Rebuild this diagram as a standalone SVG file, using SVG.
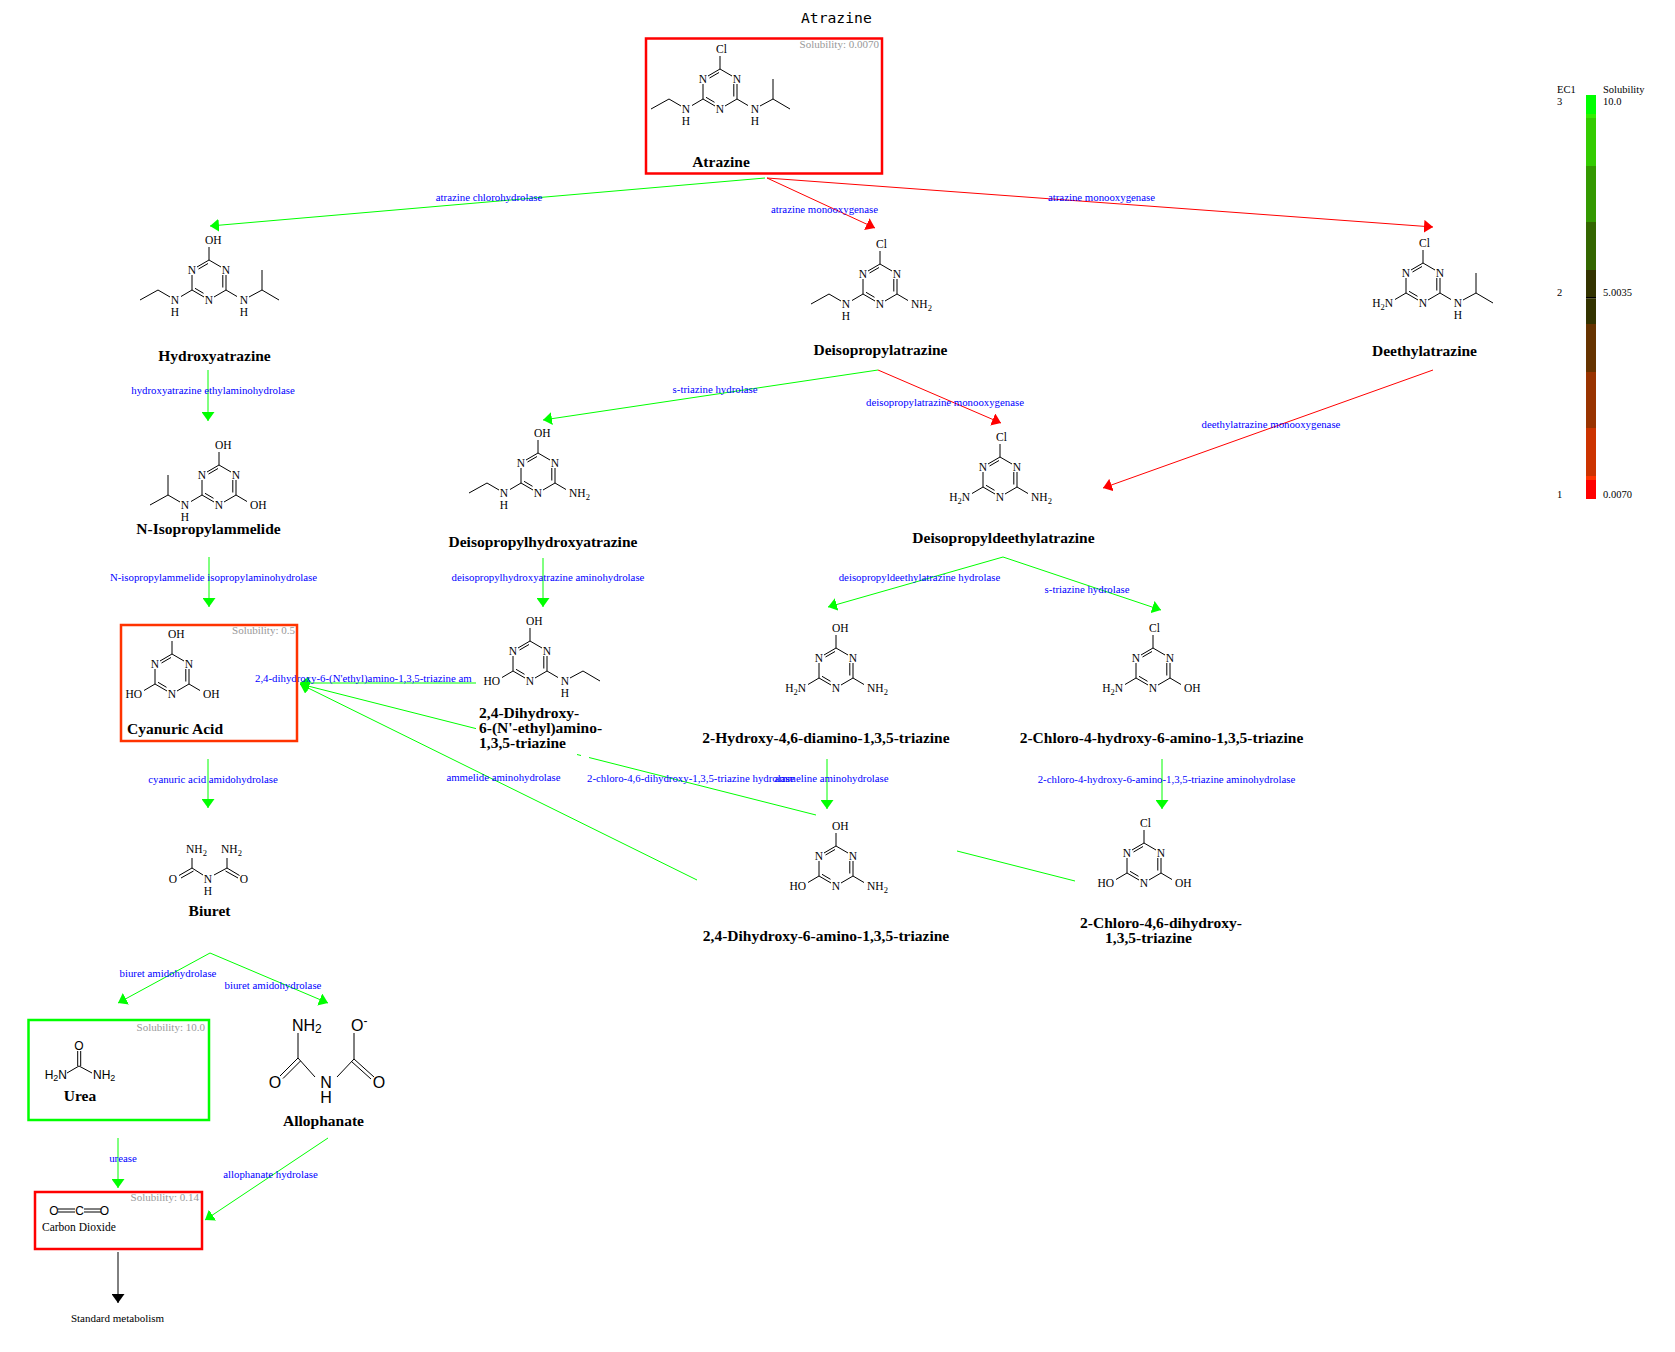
<svg xmlns="http://www.w3.org/2000/svg" xmlns:xlink="http://www.w3.org/1999/xlink" width="1675" height="1352" viewBox="0 0 1675 1352">
<defs>
<style>
.bd{fill:none;stroke:#000;stroke-width:1}
.at{font-family:"Liberation Serif",serif;font-size:11.5px;fill:#000}
.atm{font-family:"Liberation Serif",serif;font-size:11.5px;fill:#000;text-anchor:middle}
.sb{font-size:8.5px}
.sans{font-family:"Liberation Sans",Arial,sans-serif;fill:#000}
.nm{font-family:"Liberation Serif",serif;font-weight:bold;font-size:15.5px;fill:#000;text-anchor:middle}
.nml{font-family:"Liberation Serif",serif;font-weight:bold;font-size:15.5px;fill:#000}
.enz{font-family:"Liberation Serif",serif;font-size:10.8px;fill:#0000ff;text-anchor:middle}
.enzs{font-family:"Liberation Serif",serif;font-size:10.8px;fill:#0000ff}
.sol{font-family:"Liberation Serif",serif;font-size:11px;fill:#999999;text-anchor:end}
.leg{font-family:"Liberation Serif",serif;font-size:10.5px;fill:#000}
.cg{fill:none;stroke:#00ff00;stroke-width:1}
.cr{fill:none;stroke:#ff0000;stroke-width:1}
.ck{fill:none;stroke:#000;stroke-width:1}
.box{fill:none;stroke-width:2.5}
</style>
<marker id="ag" viewBox="0 0 9 13" refX="9" refY="6.5" markerWidth="9" markerHeight="13" markerUnits="userSpaceOnUse" orient="auto"><path d="M0,0 L9,6.5 L0,13 z" fill="#00ff00"/></marker>
<marker id="ar" viewBox="0 0 9 13" refX="9" refY="6.5" markerWidth="9" markerHeight="13" markerUnits="userSpaceOnUse" orient="auto"><path d="M0,0 L9,6.5 L0,13 z" fill="#ff0000"/></marker>
<marker id="ak" viewBox="0 0 9 13" refX="9" refY="6.5" markerWidth="9" markerHeight="13" markerUnits="userSpaceOnUse" orient="auto"><path d="M0,0 L9,6.5 L0,13 z" fill="#000000"/></marker>
<g id="tri">
<path class="bd" d="M0,-20 L-12,-13 M-1,-16.5 L-10.5,-11 M0,-20 L12,-13 M-17,-5 L-17,10 M17,-5 L17,10 M13.8,-5 L13.8,7.5 M-17,10 L-5,17 M-14,8.3 L-5.5,13.3 M17,10 L5,17 M0,-20 L0,-33 M-17,10 L-28,16.5 M17,10 L28,16.5"/>
<text class="atm" x="-17" y="-6.2">N</text>
<text class="atm" x="17" y="-6.2">N</text>
<text class="atm" x="0" y="23.8">N</text>
</g>
<g id="topCl"><text class="at" x="-4" y="-36.2">Cl</text></g>
<g id="topOH"><text class="at" x="-4" y="-36.2">OH</text></g>
<g id="llH2N"><text class="at" x="-30" y="23.8" text-anchor="end">H<tspan class="sb" dy="3">2</tspan><tspan dy="-3">N</tspan></text></g>
<g id="llHO"><text class="at" x="-30" y="23.8" text-anchor="end">HO</text></g>
<g id="lrNH2"><text class="at" x="31" y="23.8">NH<tspan class="sb" dy="3">2</tspan></text></g>
<g id="lrOH"><text class="at" x="31" y="23.8">OH</text></g>
<g id="nhL"><text class="atm" x="-34" y="23.8">N</text><text class="atm" x="-34" y="35.8">H</text></g>
<g id="nhR"><text class="atm" x="35" y="23.8">N</text><text class="atm" x="35" y="35.8">H</text></g>
<path id="ethL" class="bd" d="M-39,17 L-51,10 L-69,20"/>
<path id="isoL" class="bd" d="M-39,17 L-51,10 L-69,20 M-51,10 L-51,-10"/>
<path id="ethR" class="bd" d="M40,17 L53,10 L70,20"/>
<path id="isoR" class="bd" d="M40,17 L53,10 L70,20 M53,10 L53,-10"/>
</defs>
<rect x="0" y="0" width="1675" height="1352" fill="#ffffff"/>

<text x="801" y="23" font-family="'DejaVu Sans Mono',monospace" font-size="14.7px" fill="#000">Atrazine</text>

<g id="connectors">
<path class="cg" d="M765,178 L210,226" marker-end="url(#ag)"/>
<path class="cr" d="M767,178 L875,228" marker-end="url(#ar)"/>
<path class="cr" d="M767,178 L1433,227" marker-end="url(#ar)"/>
<path class="cg" d="M208,370 L208,421" marker-end="url(#ag)"/>
<path class="cg" d="M878,370 L543,420" marker-end="url(#ag)"/>
<path class="cr" d="M878,370 L1001,423" marker-end="url(#ar)"/>
<path class="cr" d="M1433,370 L1103,488" marker-end="url(#ar)"/>
<path class="cg" d="M209,557 L209,607" marker-end="url(#ag)"/>
<path class="cg" d="M543,558 L543,607" marker-end="url(#ag)"/>
<path class="cg" d="M1003,557 L828,607" marker-end="url(#ag)"/>
<path class="cg" d="M1003,557 L1161,610" marker-end="url(#ag)"/>
<path class="cg" d="M476,683 L300,683" marker-end="url(#ag)"/>
<path class="cg" d="M1075,881 L957,851 M816,815 L589,757.5 M581,755.5 L577,754.5 M476,728.6 L300,684" marker-end="url(#ag)"/>
<path class="cg" d="M697,880 L300,684" marker-end="url(#ag)"/>
<path class="cg" d="M208,759 L208,808" marker-end="url(#ag)"/>
<path class="cg" d="M827,759 L827,809" marker-end="url(#ag)"/>
<path class="cg" d="M1162,759 L1162,809" marker-end="url(#ag)"/>
<path class="cg" d="M210,953 L118,1003" marker-end="url(#ag)"/>
<path class="cg" d="M210,953 L328,1003" marker-end="url(#ag)"/>
<path class="cg" d="M118,1138 L118,1188" marker-end="url(#ag)"/>
<path class="cg" d="M328,1138 L205,1220" marker-end="url(#ag)"/>
<path class="ck" d="M118,1252 L118,1303" marker-end="url(#ak)"/>
<g id="enzyme-labels">
<text class="enz" x="489" y="201">atrazine chlorohydrolase</text>
<text class="enz" x="824.5" y="213">atrazine monooxygenase</text>
<text class="enz" x="1101.5" y="201">atrazine monooxygenase</text>
<text class="enz" x="213" y="394">hydroxyatrazine ethylaminohydrolase</text>
<text class="enz" x="715" y="393">s-triazine hydrolase</text>
<text class="enz" x="945" y="406">deisopropylatrazine monooxygenase</text>
<text class="enz" x="1271" y="428">deethylatrazine monooxygenase</text>
<text class="enz" x="213.5" y="581">N-isopropylammelide isopropylaminohydrolase</text>
<text class="enz" x="548" y="581">deisopropylhydroxyatrazine aminohydrolase</text>
<text class="enz" x="919.5" y="581">deisopropyldeethylatrazine hydrolase</text>
<text class="enz" x="1087" y="593">s-triazine hydrolase</text>
<text class="enzs" x="255" y="682">2,4-dihydroxy-6-(N'ethyl)amino-1,3,5-triazine am</text>
<text class="enz" x="213" y="783">cyanuric acid amidohydrolase</text>
<text class="enz" x="503.5" y="781">ammelide aminohydrolase</text>
<text class="enzs" x="587" y="782">2-chloro-4,6-dihydroxy-1,3,5-triazine hydrolase</text>
<text class="enz" x="831.5" y="782">ammeline aminohydrolase</text>
<text class="enz" x="1166.5" y="783">2-chloro-4-hydroxy-6-amino-1,3,5-triazine aminohydrolase</text>
<text class="enz" x="168" y="977">biuret amidohydrolase</text>
<text class="enz" x="273" y="989">biuret amidohydrolase</text>
<text class="enz" x="123" y="1162">urease</text>
<text class="enz" x="270.5" y="1178">allophanate hydrolase</text>
</g>
</g>

<g id="atrazine">
<rect class="box" x="646" y="38.5" width="236" height="135" stroke="#ff0000"/>
<text class="sol" x="879" y="48">Solubility: 0.0070</text>
<g transform="translate(720,89)"><use xlink:href="#tri"/><use xlink:href="#topCl"/><use xlink:href="#nhL"/><use xlink:href="#ethL"/><use xlink:href="#nhR"/><use xlink:href="#isoR"/></g>
<text class="nm" x="721" y="167">Atrazine</text>
</g>

<g id="hydroxyatrazine">
<g transform="translate(209,280)"><use xlink:href="#tri"/><use xlink:href="#topOH"/><use xlink:href="#nhL"/><use xlink:href="#ethL"/><use xlink:href="#nhR"/><use xlink:href="#isoR"/></g>
<text class="nm" x="214.5" y="361">Hydroxyatrazine</text>
</g>

<g id="deisopropylatrazine">
<g transform="translate(880,284)"><use xlink:href="#tri"/><use xlink:href="#topCl"/><use xlink:href="#nhL"/><use xlink:href="#ethL"/><use xlink:href="#lrNH2"/></g>
<text class="nm" x="880.5" y="355">Deisopropylatrazine</text>
</g>

<g id="deethylatrazine">
<g transform="translate(1423,283)"><use xlink:href="#tri"/><use xlink:href="#topCl"/><use xlink:href="#llH2N"/><use xlink:href="#nhR"/><use xlink:href="#isoR"/></g>
<text class="nm" x="1424.5" y="356">Deethylatrazine</text>
</g>

<g id="n-isopropylammelide">
<g transform="translate(219,485)"><use xlink:href="#tri"/><use xlink:href="#topOH"/><use xlink:href="#nhL"/><use xlink:href="#isoL"/><use xlink:href="#lrOH"/></g>
<text class="nm" x="208.5" y="534">N-Isopropylammelide</text>
</g>

<g id="deisopropylhydroxyatrazine">
<g transform="translate(538,473)"><use xlink:href="#tri"/><use xlink:href="#topOH"/><use xlink:href="#nhL"/><use xlink:href="#ethL"/><use xlink:href="#lrNH2"/></g>
<text class="nm" x="543" y="547">Deisopropylhydroxyatrazine</text>
</g>

<g id="deisopropyldeethylatrazine">
<g transform="translate(1000,477)"><use xlink:href="#tri"/><use xlink:href="#topCl"/><use xlink:href="#llH2N"/><use xlink:href="#lrNH2"/></g>
<text class="nm" x="1003.5" y="543">Deisopropyldeethylatrazine</text>
</g>

<g id="cyanuric-acid">
<rect class="box" x="121" y="625" width="176" height="116" stroke="#ff3300"/>
<text class="sol" x="295" y="634">Solubility: 0.5</text>
<g transform="translate(172,674)"><use xlink:href="#tri"/><use xlink:href="#topOH"/><use xlink:href="#llHO"/><use xlink:href="#lrOH"/></g>
<text class="nm" x="175" y="734">Cyanuric Acid</text>
</g>

<g id="dihydroxy-ethylamino-triazine">
<g transform="translate(530,661)"><use xlink:href="#tri"/><use xlink:href="#topOH"/><use xlink:href="#llHO"/><use xlink:href="#nhR"/><use xlink:href="#ethR"/></g>
<text class="nml" x="479" y="718">2,4-Dihydroxy-</text>
<text class="nml" x="479" y="733">6-(N'-ethyl)amino-</text>
<text class="nml" x="479" y="748">1,3,5-triazine</text>
</g>

<g id="hydroxy-diamino-triazine">
<g transform="translate(836,668)"><use xlink:href="#tri"/><use xlink:href="#topOH"/><use xlink:href="#llH2N"/><use xlink:href="#lrNH2"/></g>
<text class="nm" x="826" y="743">2-Hydroxy-4,6-diamino-1,3,5-triazine</text>
</g>

<g id="chloro-hydroxy-amino-triazine">
<g transform="translate(1153,668)"><use xlink:href="#tri"/><use xlink:href="#topCl"/><use xlink:href="#llH2N"/><use xlink:href="#lrOH"/></g>
<text class="nm" x="1161.5" y="743">2-Chloro-4-hydroxy-6-amino-1,3,5-triazine</text>
</g>

<g id="dihydroxy-amino-triazine">
<g transform="translate(836,866)"><use xlink:href="#tri"/><use xlink:href="#topOH"/><use xlink:href="#llHO"/><use xlink:href="#lrNH2"/></g>
<text class="nm" x="826" y="941">2,4-Dihydroxy-6-amino-1,3,5-triazine</text>
</g>

<g id="chloro-dihydroxy-triazine">
<g transform="translate(1144,863)"><use xlink:href="#tri"/><use xlink:href="#topCl"/><use xlink:href="#llHO"/><use xlink:href="#lrOH"/></g>
<text class="nm" x="1161" y="928">2-Chloro-4,6-dihydroxy-</text>
<text class="nm" x="1148.5" y="943">1,3,5-triazine</text>
</g>

<g id="biuret">
<path class="bd" d="M192,858 L192,868 L203,875 M192,868 L179,875.5 M193.5,871 L181,878 M214,875 L227,868 L227,858 M227,868 L239.5,875.5 M225.5,871 L238,878"/>
<text class="at" x="186" y="853">NH<tspan class="sb" dy="3">2</tspan></text>
<text class="at" x="221" y="853">NH<tspan class="sb" dy="3">2</tspan></text>
<text class="atm" x="173" y="883">O</text>
<text class="atm" x="244" y="883">O</text>
<text class="atm" x="208" y="883">N</text>
<text class="atm" x="208" y="894.5">H</text>
<text class="nm" x="209.5" y="916">Biuret</text>
</g>

<g id="urea">
<rect x="28.5" y="1020" width="180.5" height="100" fill="none" stroke="#00ff00" stroke-width="2.5"/>
<text class="sol" x="205" y="1031">Solubility: 10.0</text>
<path class="bd" d="M77.7,1051 L77.7,1066 M80.7,1051 L80.7,1066 M79,1066 L67,1073 M79,1066 L92,1073"/>
<text class="sans" x="79" y="1049.5" font-size="12px" text-anchor="middle">O</text>
<text class="sans" x="67" y="1079" font-size="12px" text-anchor="end">H<tspan font-size="9px" dy="2">2</tspan><tspan dy="-2">N</tspan></text>
<text class="sans" x="93" y="1079" font-size="12px">NH<tspan font-size="9px" dy="2">2</tspan></text>
<text class="nm" x="80" y="1101">Urea</text>
</g>

<g id="allophanate">
<path class="bd" d="M298,1033 L298,1058 L315,1077 M298,1058 L280,1076 M300.5,1061 L283,1078.5 M337,1077 L354,1059 L354,1033 M354,1059 L374,1077 M351.5,1061.5 L371,1079"/>
<text class="sans" x="292" y="1031" font-size="16px">NH<tspan font-size="12px" dy="2">2</tspan></text>
<text class="sans" x="351" y="1031" font-size="16px">O<tspan font-size="12px" dy="-6">-</tspan></text>
<text class="sans" x="275" y="1088" font-size="16px" text-anchor="middle">O</text>
<text class="sans" x="379" y="1088" font-size="16px" text-anchor="middle">O</text>
<text class="sans" x="326" y="1088" font-size="16px" text-anchor="middle">N</text>
<text class="sans" x="326" y="1103" font-size="16px" text-anchor="middle">H</text>
<text class="nm" x="323.5" y="1126">Allophanate</text>
</g>

<g id="carbon-dioxide">
<rect class="box" x="35" y="1192" width="167" height="57" stroke="#ff0000"/>
<text class="sol" x="199" y="1201">Solubility: 0.14</text>
<path class="bd" d="M58,1209 L75,1209 M58,1212 L75,1212 M84,1209 L101,1209 M84,1212 L101,1212"/>
<text class="sans" x="54" y="1215" font-size="12px" text-anchor="middle">O</text>
<text class="sans" x="79.5" y="1215" font-size="12px" text-anchor="middle">C</text>
<text class="sans" x="104.5" y="1215" font-size="12px" text-anchor="middle">O</text>
<text x="42" y="1231" font-family="'Liberation Serif',serif" font-size="11.5px" fill="#000">Carbon Dioxide</text>
</g>

<g id="standard-metabolism">
<text x="117.5" y="1322" font-family="'Liberation Serif',serif" font-size="11px" fill="#000" text-anchor="middle">Standard metabolism</text>
</g>

<g id="legend">
<rect x="1586" y="95" width="10" height="19" fill="#00ff00"/>
<rect x="1586" y="114" width="10" height="4" fill="#33ee00"/>
<rect x="1586" y="118" width="10" height="48" fill="#33cc00"/>
<rect x="1586" y="166" width="10" height="56" fill="#339900"/>
<rect x="1586" y="222" width="10" height="48" fill="#336600"/>
<rect x="1586" y="270" width="10" height="27" fill="#333300"/>
<rect x="1586" y="297" width="10" height="1.3" fill="#000000"/>
<rect x="1586" y="298.3" width="10" height="25.7" fill="#333300"/>
<rect x="1586" y="324" width="10" height="48" fill="#663300"/>
<rect x="1586" y="372" width="10" height="56" fill="#993300"/>
<rect x="1586" y="428" width="10" height="48" fill="#cc3300"/>
<rect x="1586" y="476" width="10" height="4" fill="#ff3300"/>
<rect x="1586" y="480" width="10" height="19" fill="#ff0000"/>
<text class="leg" x="1557" y="93">EC1</text>
<text class="leg" x="1557" y="105">3</text>
<text class="leg" x="1603" y="93">Solubility</text>
<text class="leg" x="1603" y="105">10.0</text>
<text class="leg" x="1557" y="296">2</text>
<text class="leg" x="1603" y="296">5.0035</text>
<text class="leg" x="1557" y="497.5">1</text>
<text class="leg" x="1603" y="497.5">0.0070</text>
</g>
</svg>
